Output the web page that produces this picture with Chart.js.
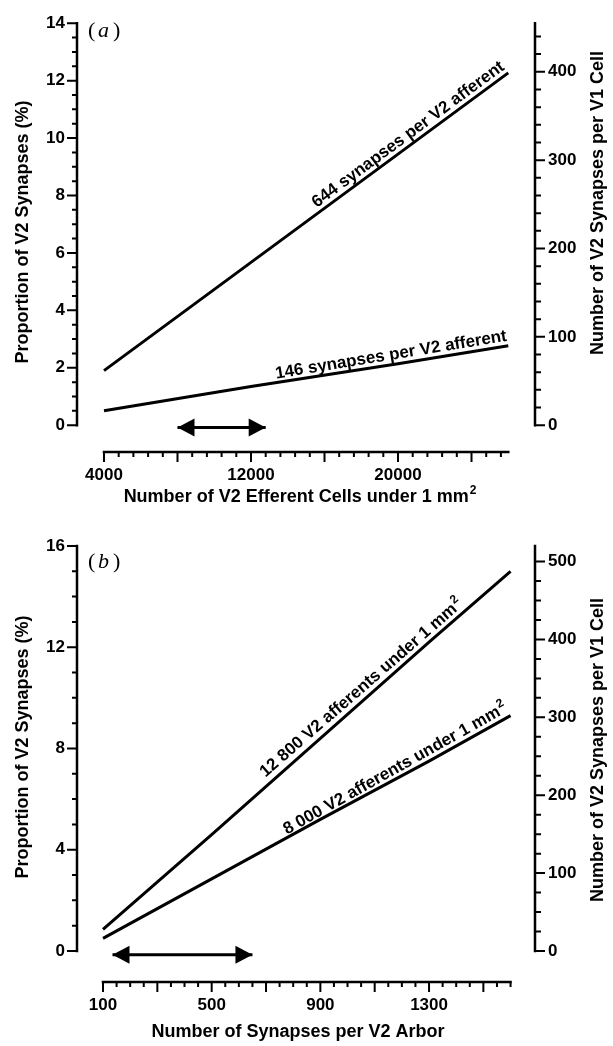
<!DOCTYPE html>
<html>
<head>
<meta charset="utf-8">
<script src="https://cdn.jsdelivr.net/npm/chart.js"></script>
<style>
  body { margin: 0; background: #fff; }
  canvas { display: block; }
</style>
</head>
<body>
<canvas id="chartA" width="613" height="520"></canvas>
<canvas id="chartB" width="613" height="526"></canvas>
<script>
// panel (a): V2 efferent cells under 1 mm2
var effCells = [4000, 12000, 20000, 26000];
var prop644 = [1.9, 5.67, 9.44, 12.27];
var prop146 = [0.5, 1.35, 2.14, 2.77];
var rangeA = [8000, 12800];
var xLabelsA = [4000, 12000, 20000];
var yLabelsA = [0, 2, 4, 6, 8, 10, 12, 14];
var y2LabelsA = [0, 100, 200, 300, 400];

// panel (b): synapses per V2 arbor
var arborSyn = [100, 500, 900, 1300, 1600];
var prop12800 = [0.85, 4.6, 8.4, 12.2, 15.0];
var prop8000 = [0.5, 2.85, 5.2, 7.5, 9.3];
var rangeB = [135, 650];
var xLabelsB = [100, 500, 900, 1300];
var yLabelsB = [0, 4, 8, 12, 16];
var y2LabelsB = [0, 100, 200, 300, 400, 500];

// right axis: synapses per V1 cell for each % of V2 synapses
var perCell = 32.5;

var FONT = '"Liberation Sans", Arial, sans-serif';
Chart.defaults.font.family = FONT;
Chart.defaults.color = '#000';
var tickFont = { size: 17, weight: 'bold' };

function tickList(from, to, step) {
  var t = [];
  for (var v = from; v <= to + 1e-9; v += step) t.push({ value: Math.round(v * 1000) / 1000 });
  return t;
}

function pointOnLine(meta, px) {
  var pts = meta.data;
  for (var i = 1; i < pts.length; i++) {
    if (px <= pts[i].x + 0.5 || i === pts.length - 1) {
      var a = pts[i - 1], b = pts[i];
      var f = (px - a.x) / (b.x - a.x);
      return { x: px, y: a.y + f * (b.y - a.y), ang: Math.atan2(b.y - a.y, b.x - a.x) };
    }
  }
}

// bold text where a trailing "²" is set as a raised small 2
function supText(ctx, text, x, y, size, align, raise) {
  var parts = text.split('\u00b2');
  var small = Math.round(size * 0.68);
  ctx.font = 'bold ' + size + 'px ' + FONT;
  var wb = ctx.measureText(parts[0]).width;
  var ws = 0;
  if (parts.length > 1) {
    ctx.font = 'bold ' + small + 'px ' + FONT;
    ws = ctx.measureText('2').width + 1;
  }
  var left = align === 'right' ? x - wb - ws : align === 'center' ? x - (wb + ws) / 2 : x;
  ctx.textAlign = 'left';
  ctx.font = 'bold ' + size + 'px ' + FONT;
  ctx.fillText(parts[0], left, y);
  if (ws) {
    ctx.font = 'bold ' + small + 'px ' + FONT;
    ctx.fillText('2', left + wb + 1, y - size * raise);
  }
}

// axis lines, tick marks, titles, panel tag, curve labels, arrow heads
var figPlugin = {
  id: 'fig',
  afterDatasetsDraw: function(chart, args, o) {
    var ctx = chart.ctx, ca = chart.chartArea;
    var sx = chart.scales.x, sy = chart.scales.y, sy2 = chart.scales.y2;
    var y0 = sy.getPixelForValue(0), axY = ca.bottom;
    ctx.save();
    ctx.strokeStyle = '#000';
    ctx.fillStyle = '#000';

    ctx.lineWidth = 2.5;
    ctx.lineCap = 'square';
    ctx.beginPath();
    ctx.moveTo(ca.left, sy.getPixelForValue(sy.max)); ctx.lineTo(ca.left, y0);
    ctx.moveTo(ca.right, sy2.getPixelForValue(sy2.max)); ctx.lineTo(ca.right, y0);
    ctx.moveTo(sx.getPixelForValue(o.xFrom), axY); ctx.lineTo(sx.getPixelForValue(o.xTo), axY);
    ctx.stroke();

    ctx.lineWidth = 2;
    ctx.lineCap = 'butt';
    ctx.beginPath();
    sx.ticks.forEach(function(t) {
      var p = sx.getPixelForValue(t.value);
      var len = (t.value - o.xFrom) % o.xMajor === 0 ? 10 : 5;
      ctx.moveTo(p, axY); ctx.lineTo(p, axY + len);
    });
    sy.ticks.forEach(function(t) {
      var p = sy.getPixelForValue(t.value);
      var len = t.value % o.yMajor === 0 ? 10 : 5;
      ctx.moveTo(ca.left, p); ctx.lineTo(ca.left - len, p);
    });
    sy2.ticks.forEach(function(t) {
      var p = sy2.getPixelForValue(t.value);
      var len = t.value % 100 === 0 ? 10 : 6;
      ctx.moveTo(ca.right, p); ctx.lineTo(ca.right + len, p);
    });
    ctx.stroke();

    // arrow heads on the range marker
    var am = chart.getDatasetMeta(o.arrow).data;
    [[am[0], -1], [am[am.length - 1], 1]].forEach(function(h) {
      var p = h[0], d = h[1];
      ctx.beginPath();
      ctx.moveTo(p.x, p.y);
      ctx.lineTo(p.x - d * 17, p.y - 9);
      ctx.lineTo(p.x - d * 17, p.y + 9);
      ctx.closePath();
      ctx.fill();
    });

    // curve labels
    ctx.textBaseline = 'alphabetic';
    o.notes.forEach(function(n) {
      var q = pointOnLine(chart.getDatasetMeta(n.ds), sx.getPixelForValue(n.at));
      ctx.save();
      ctx.translate(q.x, q.y);
      ctx.rotate(q.ang);
      supText(ctx, n.text, 0, -n.dy, 17, 'right', 0.42);
      ctx.restore();
    });

    // axis titles
    ctx.textBaseline = 'middle';
    supText(ctx, o.xTitle, o.xTitleAt[0], o.xTitleAt[1], 18, 'center', 0.36);
    [[o.leftTitle, o.leftTitleAt], [o.rightTitle, o.rightTitleAt]].forEach(function(t) {
      ctx.save();
      ctx.translate(t[1][0], t[1][1]);
      ctx.rotate(-Math.PI / 2);
      supText(ctx, t[0], 0, 0, 18, 'center', 0.36);
      ctx.restore();
    });

    // panel tag "(a)" / "(b)"
    var lx = ca.left + 11, ly = o.tagY;
    ctx.textAlign = 'left';
    ctx.textBaseline = 'alphabetic';
    ctx.font = '22px "Liberation Serif"';
    ctx.fillText('(', lx, ly);
    ctx.fillText(')', lx + 25, ly);
    ctx.font = 'italic 22px "Liberation Serif"';
    ctx.fillText(o.tag, lx + 10, ly);
    ctx.restore();
  }
};

function lineSet(xs, ys) {
  return {
    data: xs.map(function(x, i) { return { x: x, y: ys[i] }; }),
    borderColor: '#000', borderWidth: 3, pointRadius: 0, tension: 0, yAxisID: 'y'
  };
}

function makeChart(id, c) {
  return new Chart(document.getElementById(id), {
    type: 'line',
    data: { datasets: c.datasets },
    options: {
      responsive: false,
      animation: false,
      events: [],
      layout: { padding: { top: c.top, left: 0, right: 0, bottom: 0 } },
      plugins: { legend: { display: false }, tooltip: { enabled: false }, fig: c.fig },
      scales: {
        x: {
          type: 'linear', min: c.xMin, max: c.xMax,
          afterBuildTicks: function(s) { s.ticks = tickList(c.fig.xFrom, c.fig.xTo, c.xStep); },
          afterFit: function(s) { s.height = c.xHeight; },
          grid: { display: false, drawTicks: false }, border: { display: false },
          ticks: {
            autoSkip: false, maxRotation: 0, padding: 13, font: tickFont,
            callback: function(v) { return c.xLabels.indexOf(v) >= 0 ? String(v) : ''; }
          }
        },
        y: {
          position: 'left', min: c.yMin, max: c.yMax,
          afterBuildTicks: function(s) { s.ticks = tickList(0, c.yMax, c.yStep); },
          afterFit: function(s) { s.width = 77; },
          grid: { display: false, drawTicks: false }, border: { display: false },
          ticks: {
            autoSkip: false, padding: 12, font: tickFont,
            callback: function(v) { return c.yLabels.indexOf(v) >= 0 ? String(v) : ''; }
          }
        },
        y2: {
          display: true, position: 'right', min: c.yMin * perCell, max: c.yMax * perCell,
          afterBuildTicks: function(s) { s.ticks = tickList(0, c.yMax * perCell, c.y2Step); },
          afterFit: function(s) { s.width = 78; },
          grid: { display: false, drawTicks: false }, border: { display: false },
          ticks: {
            autoSkip: false, padding: 13, font: tickFont,
            callback: function(v) { return c.y2Labels.indexOf(v) >= 0 ? String(v) : ''; }
          }
        }
      }
    },
    plugins: [figPlugin]
  });
}

var arrowA = lineSet(rangeA, [-0.08, -0.08]);
arrowA.clip = false;
makeChart('chartA', {
  top: 20, xHeight: 68,
  xMin: 2531, xMax: 27455, xStep: 800, xLabels: xLabelsA,
  yMin: -0.933, yMax: 14, yStep: 0.5, yLabels: yLabelsA,
  y2Step: 20, y2Labels: y2LabelsA,
  datasets: [lineSet(effCells, prop644), lineSet(effCells, prop146), arrowA],
  fig: {
    xFrom: 4000, xTo: 26000, xMajor: 4000, yMajor: 2, arrow: 2,
    tag: 'a', tagY: 37,
    xTitle: 'Number of V2 Efferent Cells under 1 mm\u00b2', xTitleAt: [300, 497],
    leftTitle: 'Proportion of V2 Synapses (%)', leftTitleAt: [23, 232],
    rightTitle: 'Number of V2 Synapses per V1 Cell', rightTitleAt: [598, 203],
    notes: [
      { ds: 0, at: 26000, dy: 5, text: '644 synapses per V2 afferent' },
      { ds: 1, at: 26000, dy: 5, text: '146 synapses per V2 afferent' }
    ]
  }
});

var arrowB = lineSet(rangeB, [-0.15, -0.15]);
arrowB.clip = false;
makeChart('chartB', {
  top: 26, xHeight: 64,
  xMin: 4.3, xMax: 1690, xStep: 50, xLabels: xLabelsB,
  yMin: -1.225, yMax: 16, yStep: 1, yLabels: yLabelsB,
  y2Step: 25, y2Labels: y2LabelsB,
  datasets: [lineSet(arborSyn, prop12800), lineSet(arborSyn, prop8000), arrowB],
  fig: {
    xFrom: 100, xTo: 1600, xMajor: 200, yMajor: 4, arrow: 2,
    tag: 'b', tagY: 48,
    xTitle: 'Number of Synapses per V2 Arbor', xTitleAt: [298, 512],
    leftTitle: 'Proportion of V2 Synapses (%)', leftTitleAt: [23, 227],
    rightTitle: 'Number of V2 Synapses per V1 Cell', rightTitleAt: [598, 230],
    notes: [
      { ds: 0, at: 1440, dy: 5, text: '12 800 V2 afferents under 1 mm\u00b2' },
      { ds: 1, at: 1600, dy: 5, text: '8 000 V2 afferents under 1 mm\u00b2' }
    ]
  }
});
</script>
</body>
</html>
